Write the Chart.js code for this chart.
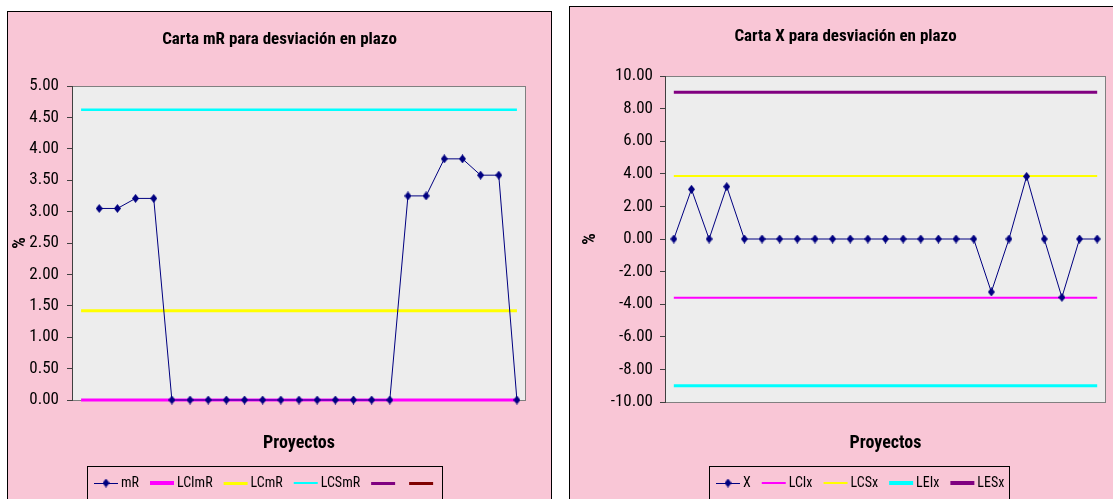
<!DOCTYPE html>
<html>
<head>
<meta charset="utf-8">
<title>Cartas de control - desviación en plazo</title>
<script src="https://cdn.jsdelivr.net/npm/chart.js@4/dist/chart.umd.min.js"></script>
<style>
  html, body { margin: 0; padding: 0; background: #ffffff; overflow: hidden; width: 1113px; height: 499px; }
  .panel { position: absolute; box-sizing: border-box; border: 1px solid #000000; background: #F9C6D6; }
  #panelMR { left: 7px; top: 11px; width: 545px; height: 530px; }
  #panelX { left: 569px; top: 6px; width: 590px; height: 530px; }
  canvas { position: absolute; left: 0; top: 0; }
</style>
</head>
<body>
<div class="panel" id="panelMR"><canvas id="chartMR" width="543" height="488"></canvas></div>
<div class="panel" id="panelX"><canvas id="chartX" width="551" height="493"></canvas></div>
<script>
// Proyectos (eje de categorías, sin etiquetas visibles)
const projects = ['1', '2', '3', '4', '5', '6', '7', '8', '9', '10', '11', '12', '13',
                  '14', '15', '16', '17', '18', '19', '20', '21', '22', '23', '24', '25'];

// Rango móvil (el primer proyecto no tiene rango)
const mR = [null, 3.05, 3.05, 3.21, 3.21, 0, 0, 0, 0, 0, 0, 0, 0, 0, 0, 0, 0, 0,
            3.25, 3.25, 3.84, 3.84, 3.58, 3.58, 0];
// Límites de la carta mR
const lciMR = 0.00;
const lcMR = 1.42;
const lcsMR = 4.62;

// Desviación en plazo por proyecto (%)
const xValues = [0, 3.05, 0, 3.21, 0, 0, 0, 0, 0, 0, 0, 0, 0, 0, 0, 0, 0, 0,
                 -3.25, 0, 3.84, 0, -3.58, 0, 0];
// Límites de la carta X
const lciX = -3.60;
const lcsX = 3.87;
const leiX = -9.00;
const lesX = 9.00;

// Marcas del eje vertical
const mRTicks = [0, 0.5, 1, 1.5, 2, 2.5, 3, 3.5, 4, 4.5, 5];
const xTicks = [-10, -8, -6, -4, -2, 0, 2, 4, 6, 8, 10];

const FONT = "'Roboto Condensed', 'Liberation Sans', Arial, sans-serif";
Chart.defaults.font.family = FONT;
Chart.defaults.color = '#000000';

const NAVY = '#000080', MAGENTA = '#FF00FF', YELLOW = '#FFFF00', CYAN = '#00FFFF',
      PURPLE = '#800080', DARKRED = '#800000', AXIS = '#404040', PLOT_BG = '#EDEDED', PLOT_EDGE = '#808080';

// Alto que la leyenda (una fila) reserva al pie del lienzo
const LEGEND_ROW = 35;

// Rombo de los marcadores
function diamond(color) {
  const c = document.createElement('canvas');
  c.width = 7; c.height = 9;
  const g = c.getContext('2d');
  g.fillStyle = color;
  g.beginPath();
  g.moveTo(3.5, 0); g.lineTo(7, 4.5); g.lineTo(3.5, 9); g.lineTo(0, 4.5);
  g.closePath();
  g.fill();
  return c;
}
const marker = diamond(NAVY);

// Muestra de línea para la leyenda
function sample(color, width, withMarker) {
  const c = document.createElement('canvas');
  c.width = 34; c.height = 14;
  const g = c.getContext('2d');
  g.fillStyle = color;
  g.fillRect(7, Math.round(7 - width / 2), 24, width);
  if (withMarker) g.drawImage(marker, 19 - 3.5, 7 - 4.5);
  return c;
}

const flat = v => projects.map(() => v);

// Fondo gris y marco del área de trazado
const plotFrame = {
  id: 'plotFrame',
  beforeDraw(chart) {
    const {ctx, chartArea: a} = chart;
    ctx.save();
    ctx.fillStyle = PLOT_BG;
    ctx.fillRect(a.left, a.top, a.right - a.left, a.bottom - a.top);
    ctx.strokeStyle = PLOT_EDGE;
    ctx.lineWidth = 1;
    ctx.strokeRect(a.left + 0.5, a.top + 0.5, a.right - a.left - 1, a.bottom - a.top);
    ctx.restore();
  }
};

// Posición de la leyenda y su recuadro
const legendFrame = {
  id: 'legendFrame',
  afterLayout(chart, args, opts) {
    const lg = chart.legend;
    if (!lg) return;
    lg.left = opts.left; lg.top = opts.top;
    lg.width = 480; lg.height = 40;
    lg.right = lg.left + lg.width; lg.bottom = lg.top + lg.height;
  },
  afterDraw(chart, args, opts) {
    const [x, y, w, h] = opts.frame;
    const ctx = chart.ctx;
    ctx.save();
    ctx.strokeStyle = '#000000';
    ctx.lineWidth = 1;
    ctx.strokeRect(x + 0.5, y + 0.5, w, h);
    ctx.restore();
  }
};

function lineSet(label, data, color, width, legendWidth, withMarker) {
  return {
    label, data,
    borderColor: color, backgroundColor: color,
    borderWidth: width,
    pointRadius: withMarker ? 4 : 0,
    pointStyle: withMarker ? marker : 'circle',
    pointHoverRadius: withMarker ? 4 : 0,
    tension: 0, fill: false, clip: 8,
    legendSample: sample(color, legendWidth, withMarker)
  };
}

function buildOptions(cfg) {
  return {
    responsive: false, animation: false, events: [],
    layout: { padding: 0 },
    plugins: {
      tooltip: { enabled: false },
      title: {
        display: true, text: cfg.title, color: '#000000',
        font: { size: 17, weight: 'bold' },
        padding: { top: cfg.titleTop, bottom: cfg.titleBottom }
      },
      legend: {
        position: 'bottom', align: 'start',
        labels: {
          usePointStyle: true, pointStyleWidth: 20, boxHeight: 14, padding: 11,
          color: '#000000', font: { size: 14 },
          generateLabels: chart => chart.data.datasets.map((ds, i) => ({
            text: ds.label, pointStyle: ds.legendSample, datasetIndex: i,
            hidden: false, lineWidth: 0, fillStyle: 'rgba(0,0,0,0)',
            strokeStyle: 'rgba(0,0,0,0)', fontColor: '#000000'
          }))
        }
      },
      legendFrame: cfg.legend
    },
    scales: {
      x: {
        type: 'category', offset: true,
        grid: { display: false }, border: { display: false },
        ticks: { display: false },
        title: {
          display: true, text: 'Proyectos', color: '#000000',
          font: { size: 18, weight: 'bold' },
          padding: { top: 0, bottom: cfg.xTitleBottom - LEGEND_ROW }
        },
        afterFit: s => { s.height = cfg.xHeight - LEGEND_ROW; }
      },
      y: {
        min: cfg.ticks[0], max: cfg.ticks[cfg.ticks.length - 1],
        afterBuildTicks: s => { s.ticks = cfg.ticks.map(v => ({ value: v })); },
        ticks: {
          autoSkip: false, padding: cfg.tickPad, color: '#000000',
          font: { size: 17 },
          callback: v => Number(v).toFixed(2)
        },
        grid: { drawOnChartArea: false, drawTicks: true, tickLength: 5, color: AXIS, tickColor: AXIS },
        border: { display: true, color: AXIS, width: 1 },
        title: {
          display: true, text: '%', color: '#000000',
          font: { size: 18, weight: 'bold' },
          padding: { top: cfg.yTitleTop, bottom: 0 }
        },
        afterFit: s => { s.width = cfg.yWidth; }
      },
      // margen a la derecha del área de trazado
      yRight: {
        type: 'linear', position: 'right', display: true,
        grid: { display: false }, border: { display: false }, ticks: { display: false },
        afterFit: s => { s.width = cfg.rightMargin; }
      }
    }
  };
}

// Carta mR
new Chart(document.getElementById('chartMR'), {
  type: 'line',
  data: {
    labels: projects,
    datasets: [
      lineSet('mR', mR, NAVY, 1, 1, true),
      lineSet('LCImR', flat(lciMR), MAGENTA, 3, 4, false),
      lineSet('LCmR', flat(lcMR), YELLOW, 3, 3, false),
      lineSet('LCSmR', flat(lcsMR), CYAN, 2.5, 2, false),
      lineSet('', flat(null), PURPLE, 3, 3, false),
      lineSet('', flat(null), DARKRED, 3, 3, false)
    ]
  },
  options: buildOptions({
    title: 'Carta mR para desviación en plazo',
    titleTop: 17.8, titleBottom: 35.8,
    xHeight: 100, xTitleBottom: 46.2,
    yWidth: 64, rightMargin: 25, yTitleTop: 1.2, tickPad: 8, ticks: mRTicks,
    legend: { left: 75, top: 453, frame: [79, 454, 355, 40] }
  }),
  plugins: [plotFrame, legendFrame]
});

// Carta X
new Chart(document.getElementById('chartX'), {
  type: 'line',
  data: {
    labels: projects,
    datasets: [
      lineSet('X', xValues, NAVY, 1, 1, true),
      lineSet('LCIx', flat(lciX), MAGENTA, 2, 2, false),
      lineSet('LCSx', flat(lcsX), YELLOW, 2, 2, false),
      lineSet('LEIx', flat(leiX), CYAN, 3, 4, false),
      lineSet('LESx', flat(lesX), PURPLE, 3, 4, false)
    ]
  },
  options: buildOptions({
    title: 'Carta X para desviación en plazo',
    titleTop: 19.8, titleBottom: 28.8,
    xHeight: 98, xTitleBottom: 46.2,
    yWidth: 95, rightMargin: 15, yTitleTop: 9.2, tickPad: 7, ticks: xTicks,
    legend: { left: 135, top: 458, frame: [139, 459, 300, 40] }
  }),
  plugins: [plotFrame, legendFrame]
});
</script>
</body>
</html>
